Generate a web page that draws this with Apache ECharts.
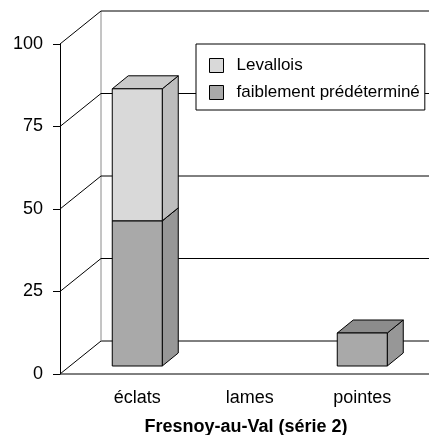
<!DOCTYPE html>
<html>
<head>
<meta charset="utf-8">
<script src="https://cdn.jsdelivr.net/npm/echarts@6/dist/echarts.min.js"></script>
<style>html,body{margin:0;padding:0;background:#fff}#c{width:429px;height:435px}</style>
</head>
<body>
<div id="c"></div>
<script>
const categories = ['éclats', 'lames', 'pointes'];
const levallois = [40, 0, 0];
const faiblement = [44, 0, 10];
const yTicks = [0, 25, 50, 75, 100];
const seriesNames = ['Levallois', 'faiblement prédéterminé'];
const titleText = 'Fresnoy-au-Val (série 2)';

const FONT = 'Liberation Sans, Arial, sans-serif';
const AXIS_SHIFT = 21;   // front axis line left of grid
const DEPTH_X = 41, DEPTH_Y = 33;   // wall depth
const BAR_LIFT = 8;      // bar plane offset
const BAR_W = 50, BAR_DX = 16, BAR_DY = 13;

const colors = {
  lev: { front: '#d9d9d9', top: '#cacaca', side: '#bdbdbd' },
  fai: { front: '#a9a9a9', top: '#8c8c8c', side: '#979797' }
};

const chart = echarts.init(document.getElementById('c'), null, { renderer: 'canvas' });

function wallsRender(params, api) {
  const cs = params.coordSys;
  const v = api.value(0);
  const y = api.coord([0, v])[1];
  const x0 = cs.x - AXIS_SHIFT;
  const xb = x0 + DEPTH_X;
  const W = api.getWidth();
  const children = [];
  children.push({ type: 'line', shape: { x1: x0, y1: y, x2: xb, y2: y - DEPTH_Y }, style: { stroke: '#000', lineWidth: 1 } });
  children.push({ type: 'line', shape: { x1: xb, y1: y - DEPTH_Y, x2: W, y2: y - DEPTH_Y }, style: { stroke: '#000', lineWidth: 1 } });
  if (params.dataIndex === 0) {
    const yTop = api.coord([0, yTicks[yTicks.length - 1]])[1];
    children.push({ type: 'line', shape: { x1: x0, y1: y, x2: W, y2: y }, style: { stroke: '#000', lineWidth: 1 } });
    children.push({ type: 'line', shape: { x1: xb, y1: y - DEPTH_Y, x2: xb, y2: yTop - DEPTH_Y }, style: { stroke: '#8a8a8a', lineWidth: 1 } });
  }
  return { type: 'group', children: children };
}

function barRender(pal) {
  return function (params, api) {
    const ci = api.value(0), base = api.value(1), val = api.value(2);
    if (!val) return null;
    const c = api.coord([ci, base]);
    const t = api.coord([ci, base + val]);
    const xl = c[0] - BAR_W / 2, xr = c[0] + BAR_W / 2;
    const yb = c[1] - BAR_LIFT, yt = t[1] - BAR_LIFT;
    const edge = { stroke: '#000', lineWidth: 1, lineJoin: 'round' };
    return {
      type: 'group',
      children: [
        { type: 'polygon', shape: { points: [[xr, yb], [xr + BAR_DX, yb - BAR_DY], [xr + BAR_DX, yt - BAR_DY], [xr, yt]] }, style: Object.assign({ fill: pal.side }, edge) },
        { type: 'polygon', shape: { points: [[xl, yt], [xr, yt], [xr + BAR_DX, yt - BAR_DY], [xl + BAR_DX, yt - BAR_DY]] }, style: Object.assign({ fill: pal.top }, edge) },
        { type: 'rect', shape: { x: xl, y: yt, width: BAR_W, height: yb - yt }, style: Object.assign({ fill: pal.front }, edge) }
      ]
    };
  };
}

const faiData = categories.map((c, i) => [i, 0, faiblement[i]]);
const levData = categories.map((c, i) => [i, faiblement[i], levallois[i]]);

chart.setOption({
  animation: false,
  backgroundColor: '#fff',
  textStyle: { fontFamily: FONT },
  grid: { left: 81, top: 44, right: 10.5, bottom: 61, containLabel: false },
  xAxis: {
    type: 'category',
    data: categories,
    boundaryGap: true,
    axisLine: { show: false },
    axisTick: { show: false },
    axisLabel: { color: '#000', fontSize: 18, fontFamily: FONT, margin: 15 },
    splitLine: { show: false }
  },
  yAxis: {
    type: 'value',
    min: 0, max: 100, interval: 25,
    offset: AXIS_SHIFT,
    axisLine: { show: true, lineStyle: { color: '#000', width: 1 } },
    axisTick: { show: true, length: 7, lineStyle: { color: '#000' } },
    axisLabel: { color: '#000', fontSize: 18, fontFamily: FONT, margin: 17 },
    splitLine: { show: false }
  },
  legend: {
    orient: 'vertical',
    left: 196, top: 44,
    data: seriesNames,
    icon: 'rect',
    itemWidth: 14, itemHeight: 14, itemGap: 10,
    padding: [13, 5, 9, 13],
    backgroundColor: '#fff',
    borderColor: '#000', borderWidth: 1, borderRadius: 0,
    itemStyle: { borderColor: '#000', borderWidth: 1 },
    textStyle: { color: '#000', fontSize: 17, fontFamily: FONT, padding: [0, 0, 0, 8] },
    z: 10
  },
  graphic: [{
    type: 'text', x: 246, y: 427, z: 10,
    style: { text: titleText, font: 'bold 18px ' + FONT, fill: '#000', textAlign: 'center', textVerticalAlign: 'middle' }
  }],
  series: [
    { type: 'custom', name: 'walls', renderItem: wallsRender, data: yTicks.map(v => [v]), silent: true, z: 1, legendHoverLink: false },
    { type: 'custom', name: seriesNames[1], renderItem: barRender(colors.fai), data: faiData, itemStyle: { color: colors.fai.front }, z: 2 },
    { type: 'custom', name: seriesNames[0], renderItem: barRender(colors.lev), data: levData, itemStyle: { color: colors.lev.front }, z: 3 }
  ]
});
</script>
</body>
</html>
